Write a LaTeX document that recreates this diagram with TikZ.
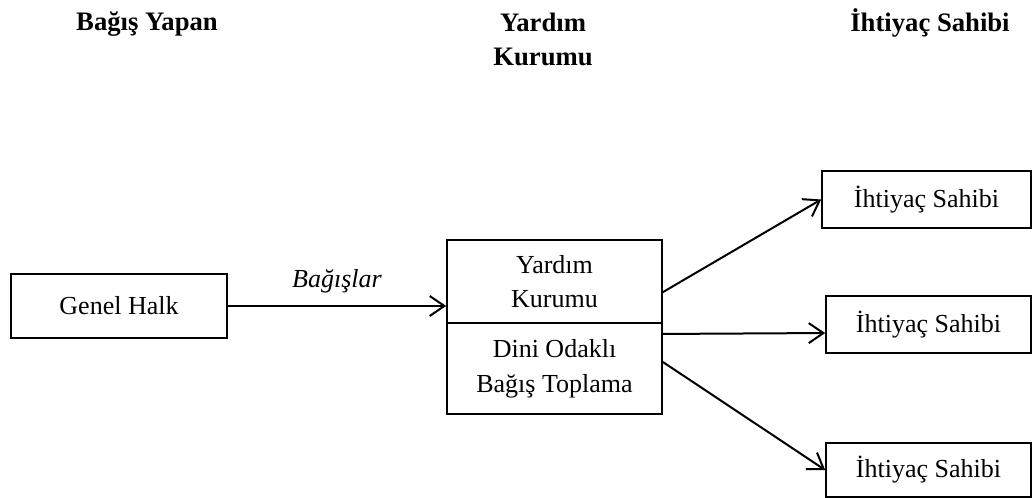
\documentclass[tikz,border=0pt]{standalone}
\usepackage{fontspec}
\setmainfont{Liberation Serif}
\usetikzlibrary{arrows.meta}
\begin{document}
\begin{tikzpicture}[x=0.75pt,y=-0.75pt,
  every node/.style={font=\fontsize{19.5}{26}\selectfont},
  box/.style={draw,line width=1.25pt,rectangle,align=center,inner sep=0pt},
  head/.style={font=\fontsize{20}{25.5}\selectfont\bfseries,align=center},
  flow/.style={line width=1.5pt,-{Straight Barb[length=11pt,width=15pt,line width=1.5pt]}}]
\useasboundingbox (0,0) rectangle (1032,498);

% column headings
\node[head] (h1) at (147,24) {Bağış Yapan};
\node[head] (h2) at (543,39) {Yardım\\Kurumu};
\node[head] (h3) at (930,23) {İhtiyaç Sahibi};

% donor
\node[box,minimum width=162pt,minimum height=48pt] (gh) at (119,306) {Genel Halk};

% aid organisation: two stacked cells
\node[box,minimum width=161.25pt,minimum height=62.25pt] (org) at (554.5,281.5) {Yardım\\Kurumu};
\node[box,minimum width=161.25pt,minimum height=68.25pt] (fund) at (554.5,368.5) {Dini Odaklı\\Bağış Toplama};

% recipients
\node[box,minimum width=156.75pt,minimum height=42.75pt] (r1) at (926.5,199.5) {İhtiyaç Sahibi};
\node[box,minimum width=153.75pt,minimum height=42.75pt] (r2) at (928.5,324.5) {İhtiyaç Sahibi};
\node[box,minimum width=153.75pt,minimum height=40.5pt] (r3) at (928.5,470) {İhtiyaç Sahibi};

% flows
\draw[flow] (gh.east) -- (gh.east -| org.west)
  node[midway,above=6pt,font=\fontsize{19.5}{26}\selectfont\itshape] (lbl) {Bağışlar};
\draw[flow] ([yshift=-8pt]org.east) -- (r1.west);
\draw[flow] ([yshift=25.9pt]fund.east) -- ([yshift=-6.4pt]r2.west);
\draw[flow] ([yshift=4.9pt]fund.east) -- (r3.west);
\end{tikzpicture}
\end{document}
